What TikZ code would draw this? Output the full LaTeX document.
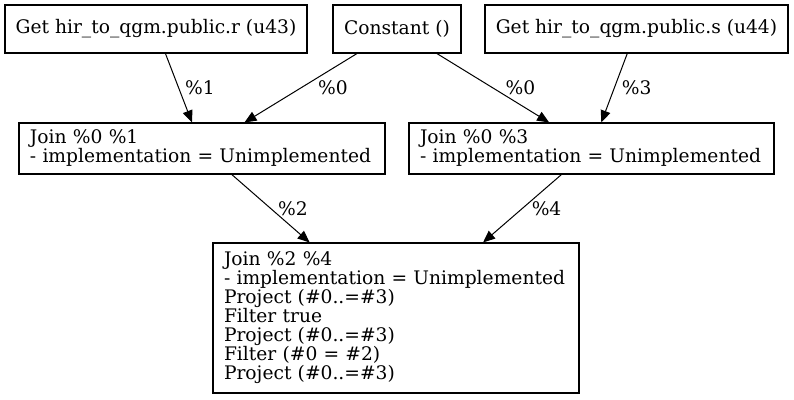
\documentclass[tikz,border=0pt]{standalone}
\usepackage{fontspec}
\setmainfont{DejaVu Serif}
\usepackage{tikz}
\usetikzlibrary{arrows.meta}

\begin{document}
\begin{tikzpicture}[x=0.75pt,y=-0.75pt,
        box/.style={draw, line width=0.8pt, rectangle, inner ysep=0pt, font=\fontsize{14}{14.25}\selectfont},
        opbox/.style={box, align=left, inner xsep=8.25pt},
        edge/.style={line width=0.75pt, -{Triangle[length=9pt,width=7.5pt]}},
        lbl/.style={midway, right, inner sep=0pt, font=\fontsize{14}{14.25}\selectfont}]
        \useasboundingbox (0,0) rectangle (794,400);
        \node [box, minimum width=226.5pt, minimum height=36pt] (getr) at (156,29) {Get hir\_to\_qgm.public.r (u43)};
        \node [box, minimum width=96pt, minimum height=36pt] (const) at (397,29) {Constant ()};
        \node [box, minimum width=227.25pt, minimum height=36pt] (gets) at (636.5,29) {Get hir\_to\_qgm.public.s (u44)};
        \node [opbox, text width=258pt, minimum height=38.25pt] (join01) at (202,148.5) {Join \%0 \%1\\- implementation = Unimplemented};
        \node [opbox, text width=257.25pt, minimum height=38.25pt] (join03) at (591.5,148.5) {Join \%0 \%3\\- implementation = Unimplemented};
        \node [opbox, text width=258pt, minimum height=112.5pt] (join24) at (396,318) {Join \%2 \%4\\- implementation = Unimplemented\\Project (\#0..=\#3)\\Filter true\\Project (\#0..=\#3)\\Filter (\#0 = \#2)\\Project (\#0..=\#3)};
        % inputs
        \draw [edge] (getr) -- (join01) node [lbl, xshift=4.5pt] {\%1};
        \draw [edge] (const) -- (join01) node [lbl, xshift=12.75pt] {\%0};
        \draw [edge] (const) -- (join03) node [lbl, xshift=9pt] {\%0};
        \draw [edge] (gets) -- (join03) node [lbl, xshift=5.25pt] {\%3};
        % joins
        \draw [edge] (join01) -- (join24) node [lbl, xshift=5.25pt] {\%2};
        \draw [edge] (join03) -- (join24) node [lbl, xshift=6.75pt] {\%4};
\end{tikzpicture}
\end{document}
